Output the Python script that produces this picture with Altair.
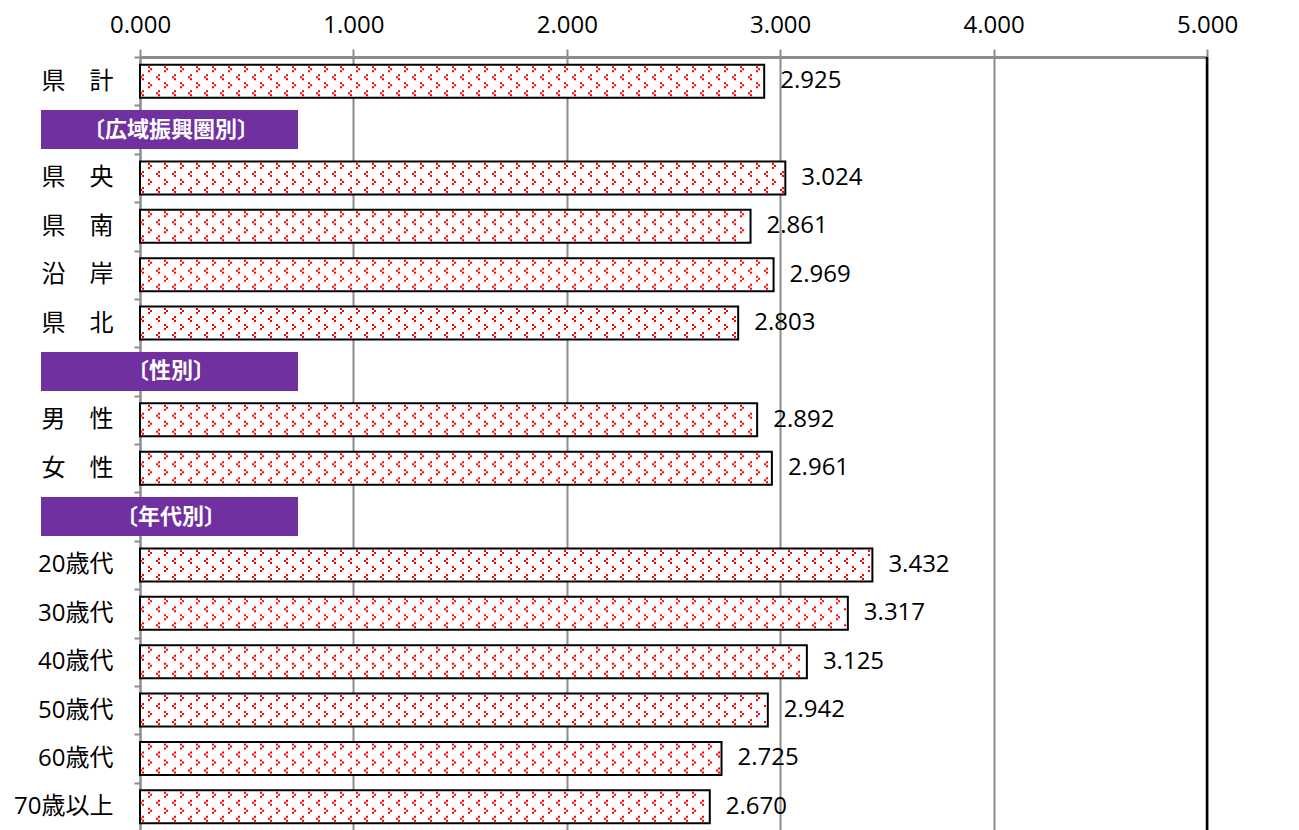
import altair as alt
import pandas as pd

# ---- data ----
row_order = ["県　計", "〔広域振興圏別〕", "県　央", "県　南", "沿　岸", "県　北",
             "〔性別〕", "男　性", "女　性",
             "〔年代別〕", "20歳代", "30歳代", "40歳代", "50歳代", "60歳代", "70歳以上"]
bar_categories = ["県　計", "県　央", "県　南", "沿　岸", "県　北", "男　性", "女　性",
                  "20歳代", "30歳代", "40歳代", "50歳代", "60歳代", "70歳以上"]
bar_values = [2.925, 3.024, 2.861, 2.969, 2.803, 2.892, 2.961,
              3.432, 3.317, 3.125, 2.942, 2.725, 2.670]
headers = ["〔広域振興圏別〕", "〔性別〕", "〔年代別〕"]
x_ticks = [0, 1, 2, 3, 4, 5]

bars_df = pd.DataFrame({"cat": bar_categories, "value": bar_values})
head_df = pd.DataFrame({"cat": headers})
edge_df = pd.DataFrame({"edge": [x_ticks[-1]]})

W, H = 1067, 774
PX = W / 5.0          # pixels per unit
STEP = H / len(row_order)
C = STEP / 2          # band centre offset (px)

xscale = alt.Scale(domain=[0, 5], nice=False, zero=True)
yscale = alt.Scale(domain=row_order, paddingInner=0, paddingOuter=0)
num_font = "Open Sans, Noto Sans CJK JP"

y_enc = alt.Y(
    "cat:N", sort=row_order, scale=yscale, title=None,
    axis=alt.Axis(
        orient="left", domainColor="#8c8c8c", domainWidth=2,
        tickColor="#8c8c8c", tickWidth=2, tickSize=6, tickBand="extent",
        labelFont=num_font, labelFontSize=24, labelColor="black",
        labelPadding=21, labelLimit=300, grid=False,
        labelExpr="indexof(['〔広域振興圏別〕','〔性別〕','〔年代別〕'], datum.label) >= 0 ? '' : datum.label",
    ),
)

x_enc = alt.X(
    "value:Q", scale=xscale, title=None,
    axis=alt.Axis(
        orient="top", values=x_ticks, format=".3f", labelFlush=False,
        labelFont=num_font, labelFontSize=24, labelColor="black", labelPadding=12,
        tickColor="#8c8c8c", tickWidth=2, tickSize=8,
        domainColor="#8c8c8c", domainWidth=3,
        grid=True, gridWidth=2, gridColor="#8c8c8c",
    ),
)

bars = alt.Chart(bars_df).mark_bar(
    size=33, fill="white", strokeWidth=0
).encode(x=x_enc, y=y_enc)

# chevron dot texture (">" and "<" rows alternating), period 16px
dy = "[-14,-12,-10,-6,-4,-2,2,4,6,10,12,14]"
dx = "[9,11,9,3,1,3,9,11,9,3,1,3]"
dots = alt.Chart(bars_df).transform_calculate(
    r=dy,
    s=dx,
).transform_flatten(["r", "s"]).transform_calculate(
    rr=f"datum.r + {C}",
    xs=f"sequence(datum.s/{PX}, datum.value - 2/{PX}, 16/{PX})",
).transform_flatten(["xs"]).mark_square(
    size=4, color="#ff0000", opacity=1, strokeWidth=0
).encode(
    x=alt.X("xs:Q", scale=xscale),
    y=alt.Y("cat:N", sort=row_order, scale=yscale),
    yOffset=alt.YOffset("rr:Q", scale=None),
)

outline = alt.Chart(bars_df).mark_bar(
    size=33, fill=None, fillOpacity=0, stroke="black", strokeWidth=2
).encode(
    x=alt.X("value:Q", scale=xscale),
    y=alt.Y("cat:N", sort=row_order, scale=yscale),
)

edge = alt.Chart(edge_df).mark_rule(color="black", strokeWidth=2.5).encode(
    x=alt.X("edge:Q", scale=xscale)
)

labels = alt.Chart(bars_df).mark_text(
    align="left", baseline="middle", dx=16, font=num_font, fontSize=24, color="black"
).encode(
    x=alt.X("value:Q", scale=xscale),
    y=alt.Y("cat:N", sort=row_order, scale=yscale),
    text=alt.Text("value:Q", format=".3f"),
)

boxes = alt.Chart(head_df).mark_bar(size=39, yOffset=0, color="#7030a0").encode(
    x=alt.value(-99), x2=alt.value(158),
    y=alt.Y("cat:N", sort=row_order, scale=yscale),
)

box_text = alt.Chart(head_df).mark_text(
    align="center", baseline="middle", yOffset=0, font="Noto Sans CJK JP",
    fontSize=22, fontWeight="bold", color="white"
).encode(
    x=alt.value(31),
    y=alt.Y("cat:N", sort=row_order, scale=yscale),
    text="cat:N",
)

chart = alt.layer(bars, dots, outline, edge, labels, boxes, box_text).properties(
    width=W, height=H,
    autosize=alt.AutoSizeParams(type="none"),
    padding={"left": 132, "top": 49, "right": 70, "bottom": 0},
).configure_view(stroke=None).configure(background="white")

chart.save("out.html", embed_options={"renderer": "svg", "actions": False})
